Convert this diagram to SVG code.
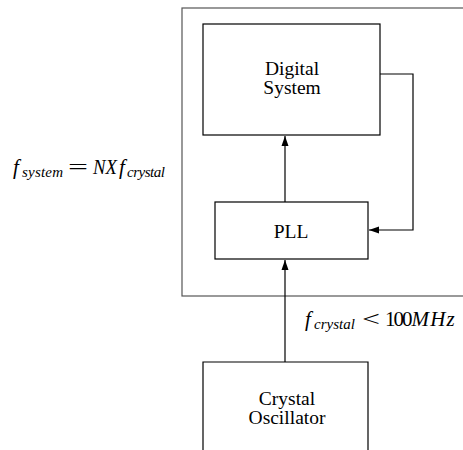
<svg xmlns="http://www.w3.org/2000/svg" width="463" height="450" viewBox="0 0 463 450">
<style>
.box{fill:none;stroke:#000;stroke-width:1.2}
.frame{fill:none;stroke:#555;stroke-width:1.2}
.lbl{font-family:"Liberation Serif","Times New Roman",serif;font-size:19.5px;fill:#000;text-anchor:middle}
.m{font-family:"Liberation Serif","Times New Roman",serif;font-style:italic;fill:#000}
.r{font-family:"Liberation Serif","Times New Roman",serif;fill:#000}
.wire{fill:none;stroke:#000;stroke-width:1.2}
</style>
<defs>
<marker id="ah" viewBox="0 0 10 10" refX="10" refY="5" markerWidth="10" markerHeight="10" markerUnits="userSpaceOnUse" orient="auto">
<path d="M0,1.5 L10,5 L0,8.5 Z" fill="#000"/>
</marker>
</defs>
<rect class="frame" x="182" y="8" width="290" height="288"/>
<g id="digital">
<rect class="box" x="203" y="24" width="177" height="111"/>
<text class="lbl" x="292" y="75">Digital</text>
<text class="lbl" x="292" y="94">System</text>
</g>
<g id="pll">
<rect class="box" x="215" y="202" width="153" height="57"/>
<text class="lbl" x="291" y="238">PLL</text>
</g>
<g id="crystal">
<path class="box" d="M203,452 V362 H368 V452"/>
<text class="lbl" x="287" y="405">Crystal</text>
<text class="lbl" x="287" y="424">Oscillator</text>
</g>
<g id="connectors">
<line class="wire" x1="285" y1="202" x2="285" y2="136" marker-end="url(#ah)"/>
<line class="wire" x1="285" y1="362" x2="285" y2="260" marker-end="url(#ah)"/>
<polyline class="wire" points="380,74 413,74 413,230 369,230" marker-end="url(#ah)"/>
</g>
<g id="label-system">
<text class="m" x="13" y="174" font-size="21">f</text>
<text class="m" x="22" y="177" font-size="15" textLength="41" lengthAdjust="spacing">system</text>
<text class="r" x="68" y="174" font-size="21" textLength="20" lengthAdjust="spacingAndGlyphs">=</text>
<text class="m" x="93" y="174" font-size="21" textLength="24" lengthAdjust="spacingAndGlyphs">NX</text>
<text class="m" x="119" y="174" font-size="21">f</text>
<text class="m" x="127" y="177" font-size="15" textLength="38" lengthAdjust="spacing">crystal</text>
</g>
<g id="label-crystal">
<text class="m" x="305" y="326" font-size="21">f</text>
<text class="m" x="314" y="329" font-size="15" textLength="41" lengthAdjust="spacing">crystal</text>
<text class="r" x="362" y="326" font-size="21" textLength="18" lengthAdjust="spacingAndGlyphs">&lt;</text>
<text class="r" x="385" y="326" font-size="21"><tspan letter-spacing="-2">100</tspan><tspan font-style="italic" letter-spacing="1.2" dx="1">MHz</tspan></text>
</g>
</svg>
